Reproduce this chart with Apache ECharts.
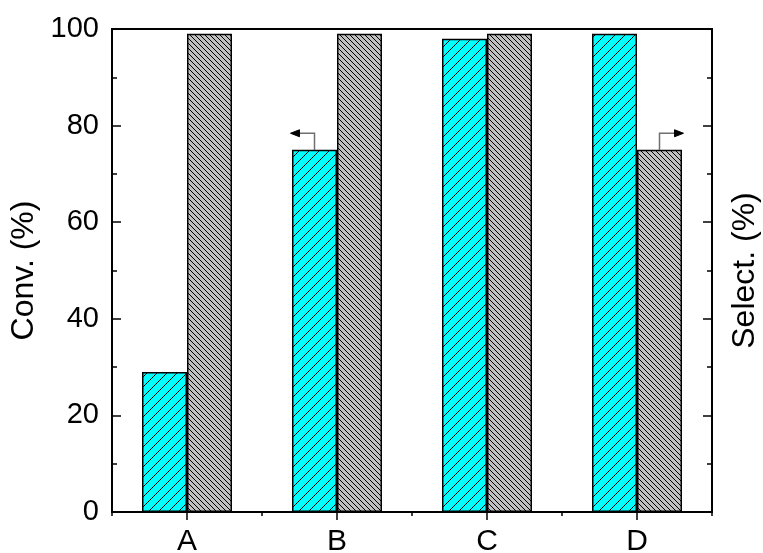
<!DOCTYPE html>
<html>
<head>
<meta charset="utf-8">
<script src="https://cdn.jsdelivr.net/npm/echarts@6/dist/echarts.min.js"></script>
<style>
html,body{margin:0;padding:0;background:#fff;}
#chart{width:763px;height:553px;}
</style>
</head>
<body>
<div id="chart"></div>
<script>
// ---- data ----
var categories = ['A', 'B', 'C', 'D'];
var conversion = [29, 75, 98, 99];      // Conv. (%) - left axis
var selectivity = [99, 99, 99, 75];     // Select. (%) - right axis
var yTicks = [0, 20, 40, 60, 80, 100];
// arrows marking which axis each series belongs to
var arrowMarks = [
  { category: 'B', seriesIndex: 0, dir: -1 },
  { category: 'D', seriesIndex: 1, dir: 1 }
];

function hatch(size, bg, dir) {
  var c = document.createElement('canvas');
  c.width = size; c.height = size;
  var g = c.getContext('2d');
  g.fillStyle = bg; g.fillRect(0, 0, size, size);
  g.strokeStyle = '#000'; g.lineWidth = 1;
  g.beginPath();
  if (dir > 0) { // "/"
    g.moveTo(0, size); g.lineTo(size, 0);
    g.moveTo(-1, 1); g.lineTo(1, -1);
    g.moveTo(size - 1, size + 1); g.lineTo(size + 1, size - 1);
  } else { // "\"
    g.moveTo(0, 0); g.lineTo(size, size);
    g.moveTo(-1, size - 1); g.lineTo(1, size + 1);
    g.moveTo(size - 1, -1); g.lineTo(size + 1, 1);
  }
  g.stroke();
  return c;
}

var FONT = "'Liberation Sans', Arial, sans-serif";
var chart = echarts.init(document.getElementById('chart'), null, { renderer: 'canvas' });

var yAxisCommon = {
  type: 'value', min: yTicks[0], max: yTicks[yTicks.length - 1], interval: yTicks[1] - yTicks[0],
  nameLocation: 'middle', nameRotate: 90,
  nameTextStyle: { fontFamily: FONT, fontSize: 32, color: '#000' },
  axisLine: { show: true, lineStyle: { color: '#000', width: 2 } },
  axisTick: { show: true, inside: true, length: 9, lineStyle: { color: '#000', width: 1.5 } },
  minorTick: { show: true, splitNumber: 2, length: 5, lineStyle: { color: '#000', width: 1.5 } },
  splitLine: { show: false }
};

var option = {
  animation: false,
  backgroundColor: '#fff',
  grid: { left: 112, right: 51, top: 29, bottom: 41, containLabel: false, outerBoundsMode: 'none',
          show: true, borderColor: '#000', borderWidth: 2, backgroundColor: 'transparent' },
  xAxis: [{
    type: 'category', data: categories, position: 'bottom',
    axisLine: { show: true, lineStyle: { color: '#000', width: 2 } },
    axisTick: { show: true, alignWithLabel: true, length: 8, lineStyle: { color: '#000', width: 1.5 } },
    axisLabel: { fontFamily: FONT, fontSize: 30, color: '#000', margin: 15 },
    splitLine: { show: false }
  }, {
    type: 'category', data: categories, position: 'bottom',
    axisLine: { show: false },
    axisTick: { show: true, alignWithLabel: false, length: 4, lineStyle: { color: '#000', width: 1.5 } },
    axisLabel: { show: false },
    splitLine: { show: false }
  }],
  yAxis: [
    Object.assign({}, yAxisCommon, {
      position: 'left', name: 'Conv. (%)', nameGap: 70,
      axisLabel: { show: true, fontFamily: FONT, fontSize: 29, color: '#000', margin: 13 }
    }),
    Object.assign({}, yAxisCommon, {
      position: 'right', name: 'Select. (%)', nameGap: 17,
      axisLabel: { show: false }
    })
  ],
  series: [{
    type: 'bar', name: 'Conv.', data: conversion, xAxisIndex: 0, yAxisIndex: 0,
    barWidth: '30%', barGap: '0%',
    itemStyle: { color: { image: hatch(10, '#00ffff', 1), repeat: 'repeat' }, borderColor: '#000', borderWidth: 1.5 }
  }, {
    type: 'bar', name: 'Select.', data: selectivity, xAxisIndex: 0, yAxisIndex: 1,
    barWidth: '30%', barGap: '0%',
    itemStyle: { color: { image: hatch(5, '#c0c0c0', -1), repeat: 'repeat' }, borderColor: '#000', borderWidth: 1.5 }
  }]
};
chart.setOption(option);

// arrows, positioned from the axes
var p0 = chart.convertToPixel({ xAxisIndex: 0 }, categories[0]);
var p1 = chart.convertToPixel({ xAxisIndex: 0 }, categories[1]);
var catW = p1 - p0;
var barW = catW * 0.3;
var elements = [];
arrowMarks.forEach(function (a) {
  var idx = categories.indexOf(a.category);
  var vals = a.seriesIndex === 0 ? conversion : selectivity;
  var cx = chart.convertToPixel({ xAxisIndex: 0 }, a.category) + (a.seriesIndex === 0 ? -barW / 2 : barW / 2);
  var yTop = chart.convertToPixel({ yAxisIndex: a.seriesIndex }, vals[idx]);
  var yA = yTop - 16.5;
  var tipX = cx + a.dir * 24;
  var baseX = cx + a.dir * 15;
  elements.push({
    type: 'polyline', silent: true,
    shape: { points: [[cx, yTop], [cx, yA], [baseX, yA]] },
    style: { stroke: '#6f6f6f', lineWidth: 1.5, fill: null }
  });
  elements.push({
    type: 'polygon', silent: true,
    shape: { points: [[tipX, yA], [baseX, yA - 3.5], [baseX, yA + 3.5]] },
    style: { fill: '#000', stroke: '#000', lineWidth: 1 }
  });
});
chart.setOption({ graphic: { elements: elements } });
</script>
</body>
</html>
